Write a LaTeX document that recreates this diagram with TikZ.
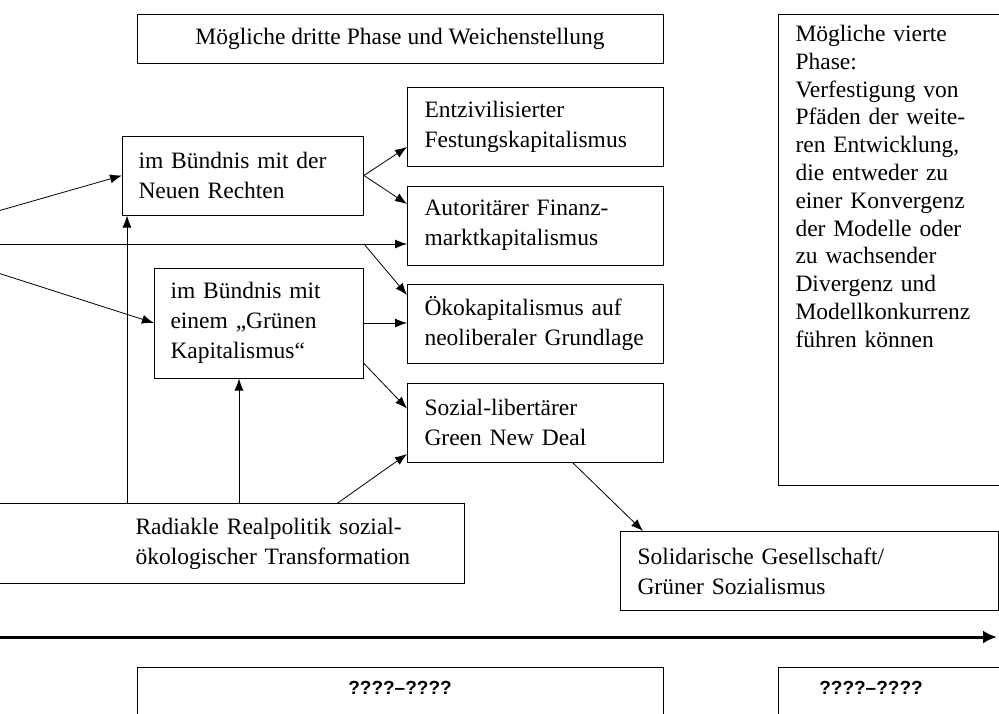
\documentclass[tikz,border=0pt]{standalone}
\usepackage{fontspec}
\setmainfont{Liberation Serif}
\newfontfamily\yearfont{Liberation Sans}
\usetikzlibrary{positioning}
\usetikzlibrary{arrows.meta}

\begin{document}
\begin{tikzpicture}[
                x=0.5pt, y=-0.5pt,
                >={Latex[length=6pt,width=4.5pt]},
                every node/.style={font=\fontsize{11.75}{15}\selectfont},
                phasebox/.style={rectangle, draw, line width=0.5pt, minimum width=263pt, minimum height=24.5pt},
                pathbox/.style={rectangle, draw, line width=0.5pt, align=left, text width=111pt, inner xsep=8.5pt, minimum height=39.5pt},
                allybox/.style={rectangle, draw, line width=0.5pt, align=left, inner xsep=8pt, minimum height=39.5pt},
                yearbox/.style={rectangle, draw, line width=0.5pt, minimum width=263pt, anchor=north, inner ysep=7pt, text depth=30pt, font=\yearfont\bfseries\fontsize{9.5}{11}\selectfont},
            ]
            \useasboundingbox (0,0) rectangle (999,713);

            % Nodes
            \node[phasebox]         (third)      at (400,38.5)     {Mögliche dritte Phase und Weichenstellung};
            \node[rectangle, draw, line width=0.5pt, anchor=north west, align=left, text width=125pt,
                  inner xsep=8.5pt, inner ysep=5.5pt, text height=8pt, text depth=216.5pt,
                  font=\fontsize{11.75}{13.9}\selectfont]
                                    (fourth)     at (778,14)       {Mögliche vierte\\ Phase:\\ Verfestigung von\\ Pfäden der weite-\\ ren Entwicklung,\\ die entweder zu\\ einer Konvergenz\\ der Modelle oder\\ zu wachsender\\ Divergenz und\\ Modellkonkurrenz\\ führen können};

            \node[pathbox, anchor=north west] (fortress) at (407,87)   {Entzivilisierter\\ Festungskapitalismus};
            \node[pathbox]          (finance)    [below=9.25pt of fortress]  {Autoritärer Finanz-\\ marktkapitalismus};
            \node[pathbox]          (ecocap)     [below=9.25pt of finance]   {Ökokapitalismus auf\\ neoliberaler Grundlage};
            \node[pathbox]          (newdeal)    [below=9.25pt of ecocap]    {Sozial-libertärer\\ Green New Deal};

            \node[allybox, text width=104.5pt, anchor=east] (newright) at (364,175.5) {im Bündnis mit der\\ Neuen Rechten};
            \node[allybox, text width=88.5pt, minimum height=55pt, anchor=east] (greencap) at (364,323) {im Bündnis mit\\ einem „Grünen\\ Kapitalismus“};

            \node[allybox, draw=none, text width=156pt, anchor=east] (radical) at (464,543.5) {Radiakle Realpolitik sozial-\\ ökologischer Transformation};
            \node[allybox, text width=172pt, inner xsep=8.5pt, anchor=north west] (solidary) at (620,531) {Solidarische Gesellschaft/\\ Grüner Sozialismus};

            \node[yearbox]          (yearsthree) at (400,667)      {????–????};
            \node[yearbox, draw=none, minimum width=0pt] (yearsfour) at (871,667) {????–????};

            % free ends at the left border and the time axis
            \coordinate (leftedge)  at (-4,0);
            \coordinate (fromA)     at (-2,211);
            \coordinate (fromB)     at (-2,244);
            \coordinate (fromC)     at (-2,273);
            \coordinate (timestart) at (-2,637);
            \coordinate (timeend)   at (997,637);

            % Frames running over the border
            \draw[line width=0.5pt] (leftedge |- radical.north) -- (radical.north east) -- (radical.south east) -- (leftedge |- radical.south);
            \draw[line width=0.5pt] (yearsfour.north -| fourth.east) -- (yearsfour.north -| fourth.west) -- (yearsfour.south -| fourth.west);

            %Lines
            \draw[->] (fromA) -- (newright.west);
            \draw[->] (fromB) -- (fromB -| finance.west);
            \draw[->] (fromC) -- (greencap.west);

            \draw[->] ([xshift=2.5pt]newright.south west |- radical.north) -- ([xshift=2.5pt]newright.south west);
            \draw[->] ([xshift=42.5pt]greencap.south west |- radical.north) -- ([xshift=42.5pt]greencap.south west);
            \draw[->] ([xshift=-63.5pt]radical.north east) -- ([yshift=4.25pt]newdeal.south west);

            \draw[->] (newright.east) -- ([yshift=-10pt]fortress.west);
            \draw[->] (newright.east) -- ([yshift=-9.25pt]finance.north west);
            \draw[->] (fromB -| newright.east) -- ([yshift=-5.5pt]ecocap.north west);
            \draw[->] (greencap.east) -- (greencap.east -| ecocap.west);
            \draw[->] ([yshift=7.5pt]greencap.south east) -- ([yshift=7pt]newdeal.west);
            \draw[->] ([xshift=18.5pt]newdeal.south) -- ([xshift=11.5pt]solidary.north west);

            \draw[line width=1.5pt, -{Latex[length=7pt,width=6.5pt]}] (timestart) -- (timeend);
        \end{tikzpicture}
\end{document}
